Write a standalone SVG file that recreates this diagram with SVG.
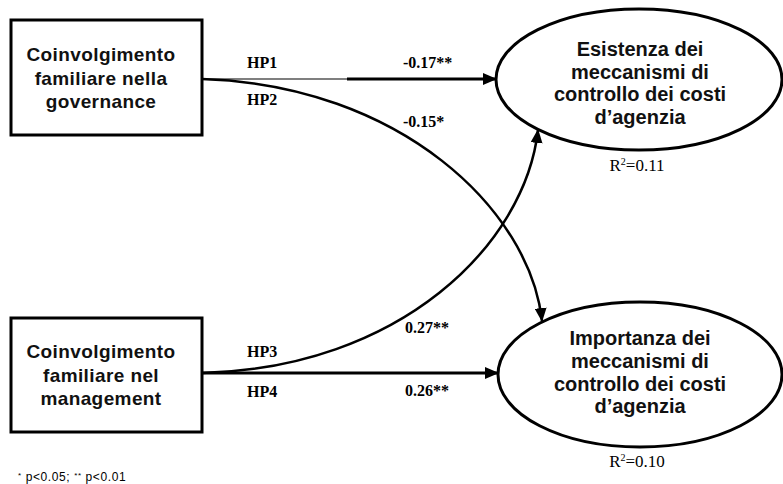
<svg xmlns="http://www.w3.org/2000/svg" width="783" height="484" viewBox="0 0 783 484">
<style>
.box{fill:#fff;stroke:#000;stroke-width:3}
.ell{fill:#fff;stroke:#000;stroke-width:3}
.nt{font-family:"Liberation Sans",Arial,sans-serif;font-weight:bold;font-size:19px;text-anchor:middle;fill:#111;letter-spacing:0.4px}
.et{font-family:"Liberation Sans",Arial,sans-serif;font-weight:bold;font-size:20px;text-anchor:middle;fill:#111}
.lb{font-family:"Liberation Serif","Times New Roman",serif;font-weight:bold;font-size:16px;fill:#000}
.r2{font-family:"Liberation Serif","Times New Roman",serif;font-size:17px;fill:#000;text-anchor:middle}
.fn{font-family:"Liberation Sans",Arial,sans-serif;font-size:12px;fill:#000;letter-spacing:0.6px}
.c{fill:none;stroke:#000}
</style>
<defs>
<marker id="ah" markerUnits="userSpaceOnUse" markerWidth="14" markerHeight="12" refX="13" refY="6" orient="auto">
<path d="M0,0 L14,6 L0,12 Z" fill="#000"/>
</marker>
</defs>
<g id="connectors">
<line class="c" x1="202" y1="79" x2="347" y2="79" stroke-width="1.2"/>
<line class="c" x1="347" y1="79" x2="496" y2="79" stroke-width="3" marker-end="url(#ah)"/>
<path class="c" d="M202,79 C400,85 530,210 542,321" stroke-width="2.5" marker-end="url(#ah)"/>
<path class="c" d="M202,373 C400,368 525,245 538,130" stroke-width="2.5" marker-end="url(#ah)"/>
<line class="c" x1="202" y1="373" x2="498" y2="373" stroke-width="3" marker-end="url(#ah)"/>
<text class="lb" x="247" y="68">HP1</text>
<text class="lb" x="247" y="105">HP2</text>
<text class="lb" x="247" y="357">HP3</text>
<text class="lb" x="247" y="397">HP4</text>
<text class="lb" x="403" y="68">-0.17**</text>
<text class="lb" x="403" y="127">-0.15*</text>
<text class="lb" x="405" y="333">0.27**</text>
<text class="lb" x="405" y="396">0.26**</text>
</g>
<g id="node-governance">
<rect class="box" x="11" y="20" width="191" height="115"/>
<text class="nt" x="101" y="61">Coinvolgimento</text>
<text class="nt" x="101" y="85">familiare  nella</text>
<text class="nt" x="101" y="108">governance</text>
</g>
<g id="node-management">
<rect class="box" x="11" y="318" width="191" height="114"/>
<text class="nt" x="101" y="358">Coinvolgimento</text>
<text class="nt" x="101" y="382">familiare  nel</text>
<text class="nt" x="101" y="405">management</text>
</g>
<g id="node-esistenza">
<ellipse class="ell" cx="639" cy="79.5" rx="143" ry="70.5"/>
<text class="et" x="640" y="56">Esistenza  dei</text>
<text class="et" x="640" y="78.5">meccanismi  di</text>
<text class="et" x="640" y="101">controllo dei costi</text>
<text class="et" x="640" y="123.5">d’agenzia</text>
<text class="r2" x="637" y="171">R<tspan font-size="10" dy="-6">2</tspan><tspan dy="6">=0.11</tspan></text>
</g>
<g id="node-importanza">
<ellipse class="ell" cx="640" cy="374.5" rx="142" ry="72.5"/>
<text class="et" x="640" y="345">Importanza dei</text>
<text class="et" x="640" y="368">meccanismi  di</text>
<text class="et" x="640" y="390.5">controllo dei costi</text>
<text class="et" x="640" y="413">d’agenzia</text>
<text class="r2" x="637" y="467">R<tspan font-size="10" dy="-6">2</tspan><tspan dy="6">=0.10</tspan></text>
</g>
<g id="footnote">
<text class="fn" x="18" y="481"><tspan font-size="8" dy="-3">*</tspan><tspan dy="3"> p&lt;0.05; </tspan><tspan font-size="8" dy="-3">**</tspan><tspan dy="3"> p&lt;0.01</tspan></text>
</g>
</svg>
